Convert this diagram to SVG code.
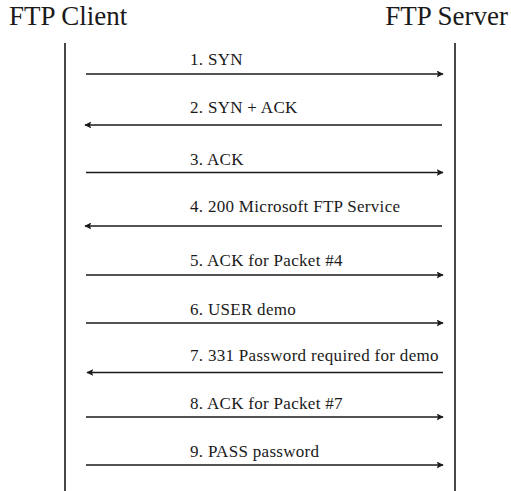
<svg xmlns="http://www.w3.org/2000/svg" width="511" height="491" viewBox="0 0 511 491">
<style>
text{font-family:"Liberation Serif","Times New Roman",serif;fill:#1a1a1a}
.t{font-size:27px}
.l{font-size:17px;letter-spacing:0.3px}
.life{stroke:#1a1a1a;stroke-width:1.6}
.msg{stroke:#1a1a1a;stroke-width:1.6;fill:none;marker-end:url(#ah)}
</style>
<defs>
<marker id="ah" viewBox="0 0 10 10" refX="9" refY="5" markerWidth="7" markerHeight="7" markerUnits="userSpaceOnUse" orient="auto">
<path d="M0,0 L10,5 L0,10 L2,5 Z" fill="#1a1a1a"/>
</marker>
</defs>
<rect width="511" height="491" fill="#fff"/>
<g id="client"><text class="t" x="9" y="25">FTP Client</text><line class="life" x1="65" y1="43" x2="65" y2="491"/></g>
<g id="server"><text class="t" x="508" y="25" text-anchor="end">FTP Server</text><line class="life" x1="455" y1="43" x2="455" y2="491"/></g>
<g id="connectors">
<line class="msg" x1="86" y1="74" x2="443" y2="74"/>
<line class="msg" x1="442" y1="125" x2="85" y2="125"/>
<line class="msg" x1="86" y1="172.5" x2="443" y2="172.5"/>
<line class="msg" x1="442" y1="226" x2="85" y2="226"/>
<line class="msg" x1="86" y1="275" x2="443" y2="275"/>
<line class="msg" x1="86" y1="323" x2="443" y2="323"/>
<line class="msg" x1="443" y1="372.5" x2="87" y2="372.5"/>
<line class="msg" x1="86" y1="417" x2="443" y2="417"/>
<line class="msg" x1="86" y1="465" x2="443" y2="465"/>
</g>
<g id="labels">
<text class="l" x="190" y="65">1. SYN</text>
<text class="l" x="190" y="113">2. SYN + ACK</text>
<text class="l" x="190" y="165">3. ACK</text>
<text class="l" x="190" y="212">4. 200 Microsoft FTP Service</text>
<text class="l" x="190" y="266">5. ACK for Packet #4</text>
<text class="l" x="190" y="315">6. USER demo</text>
<text class="l" x="190" y="361">7. 331 Password required for demo</text>
<text class="l" x="190" y="409">8. ACK for Packet #7</text>
<text class="l" x="190" y="457">9. PASS password</text>
</g>
</svg>
